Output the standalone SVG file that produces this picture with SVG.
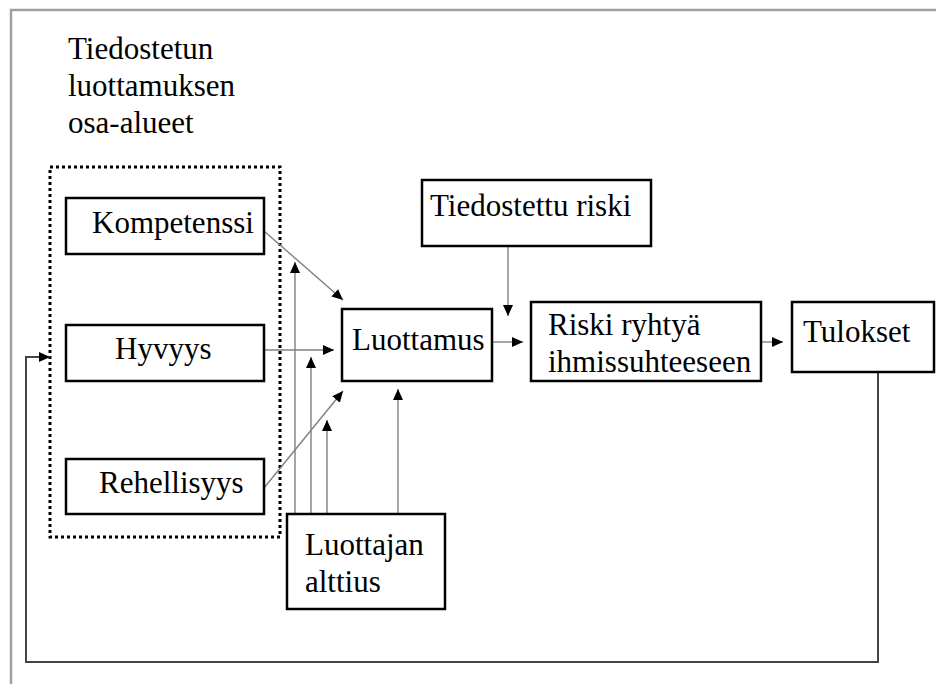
<svg xmlns="http://www.w3.org/2000/svg" width="936" height="684" viewBox="0 0 936 684">
<style>
text{font-family:'Liberation Serif','DejaVu Serif',serif;font-size:31px;fill:#000}
.box{fill:#fff;stroke:#000;stroke-width:2.5}
.c{fill:none;stroke:#808080;stroke-width:1.4}
.fb{fill:none;stroke:#444;stroke-width:2}
</style>
<defs>
<marker id="ah" markerUnits="userSpaceOnUse" markerWidth="12" markerHeight="10" refX="11" refY="5" orient="auto">
<path d="M0,0 L11,5 L0,10 z" fill="#000"/>
</marker>
</defs>
<rect width="936" height="684" fill="#fff"/>
<path d="M11,684 V10 H936" fill="none" stroke="#a0a0a0" stroke-width="2.5"/>
<g id="title">
<text x="68" y="59">Tiedostetun</text>
<text x="68" y="96">luottamuksen</text>
<text x="68" y="133">osa-alueet</text>
</g>
<g id="group-area">
<rect x="50" y="167" width="230" height="370" fill="none" stroke="#000" stroke-width="3" stroke-dasharray="3 3"/>
</g>
<g id="connectors">
<line class="c" x1="264" y1="231" x2="343" y2="300" marker-end="url(#ah)"/>
<line class="c" x1="264" y1="350" x2="334" y2="350" marker-end="url(#ah)"/>
<line class="c" x1="264" y1="488" x2="343" y2="391" marker-end="url(#ah)"/>
<line class="c" x1="492" y1="342" x2="523" y2="342" marker-end="url(#ah)"/>
<line class="c" x1="508" y1="246" x2="508" y2="316" marker-end="url(#ah)"/>
<line class="c" x1="761" y1="342" x2="783" y2="342" marker-end="url(#ah)"/>
<line class="c" x1="295" y1="514" x2="295" y2="262" marker-end="url(#ah)"/>
<line class="c" x1="311" y1="514" x2="311" y2="357" marker-end="url(#ah)"/>
<line class="c" x1="327" y1="514" x2="327" y2="420" marker-end="url(#ah)"/>
<line class="c" x1="398" y1="514" x2="398" y2="389" marker-end="url(#ah)"/>
<path class="fb" d="M878,372 V662 H26 V357 H50" marker-end="url(#ah)"/>
</g>
<g id="kompetenssi">
<rect class="box" x="66" y="198" width="198" height="56"/>
<text x="92" y="233">Kompetenssi</text>
</g>
<g id="hyvyys">
<rect class="box" x="66" y="325" width="198" height="56"/>
<text x="115" y="359">Hyvyys</text>
</g>
<g id="rehellisyys">
<rect class="box" x="66" y="459" width="198" height="55"/>
<text x="99" y="493">Rehellisyys</text>
</g>
<g id="luottamus">
<rect class="box" x="342" y="309" width="150" height="72"/>
<text x="352" y="350">Luottamus</text>
</g>
<g id="tiedostettu-riski">
<rect class="box" x="422" y="180" width="229" height="66"/>
<text x="430" y="216">Tiedostettu riski</text>
</g>
<g id="riski-ryhtya">
<rect class="box" x="531" y="302" width="230" height="79"/>
<text x="548" y="335">Riski ryhtyä</text>
<text x="548" y="372">ihmissuhteeseen</text>
</g>
<g id="tulokset">
<rect class="box" x="792" y="302" width="142" height="70"/>
<text x="803" y="342">Tulokset</text>
</g>
<g id="luottajan-alttius">
<rect class="box" x="287" y="514" width="158" height="95"/>
<text x="305" y="555">Luottajan</text>
<text x="305" y="592">alttius</text>
</g>
</svg>
